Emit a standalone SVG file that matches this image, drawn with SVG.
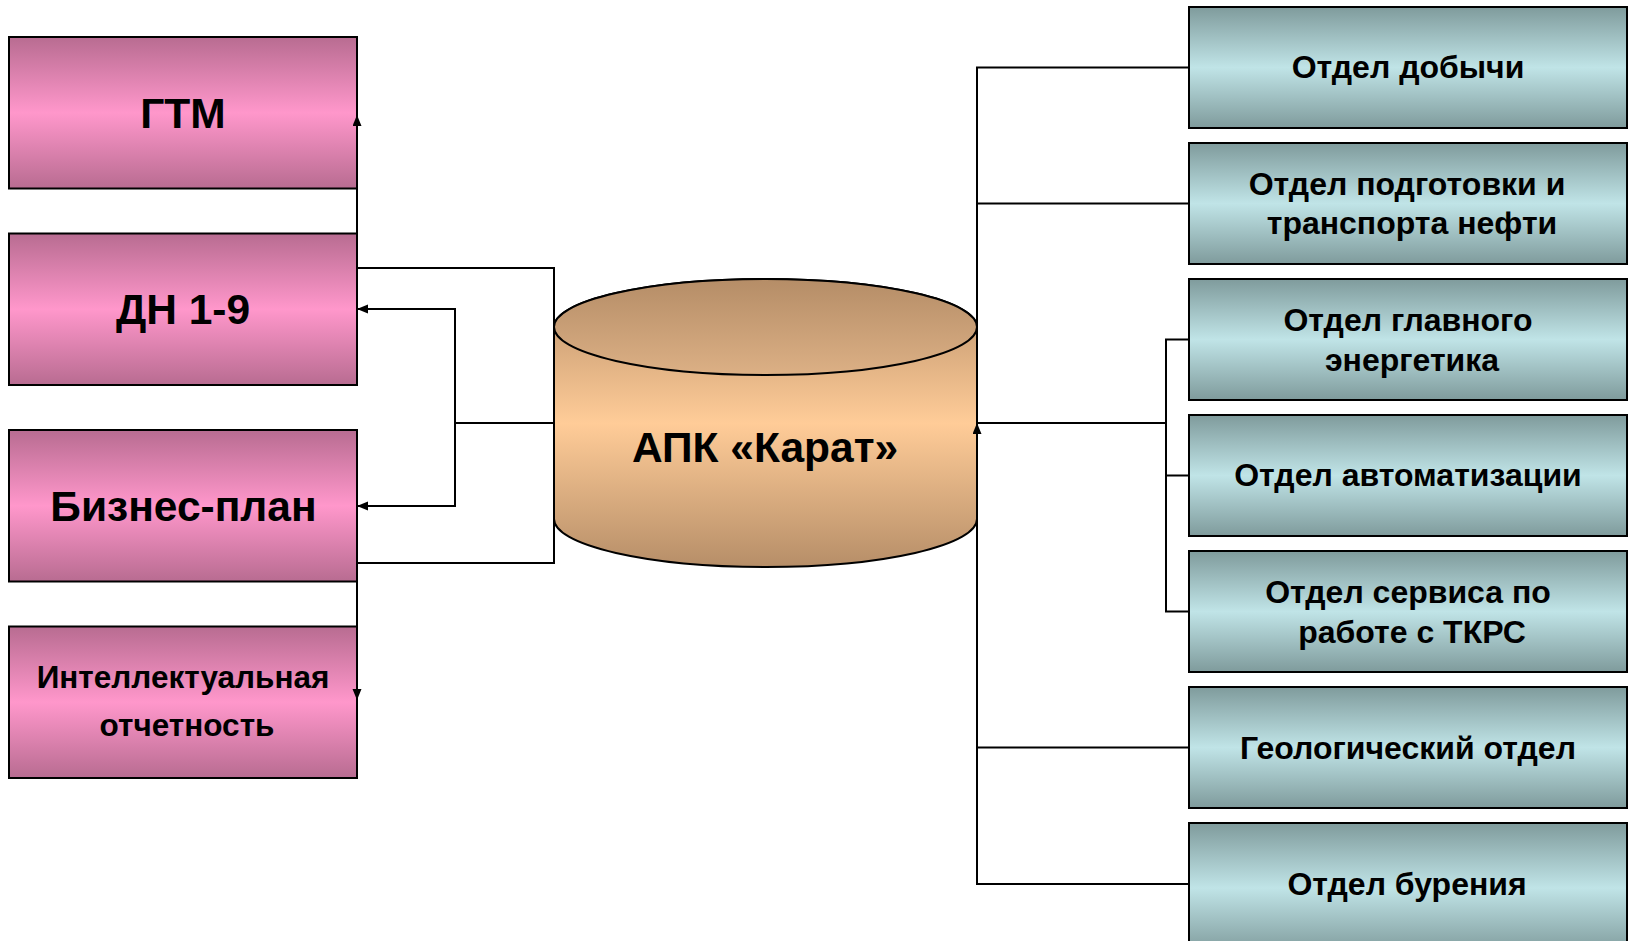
<svg xmlns="http://www.w3.org/2000/svg" width="1628" height="941" viewBox="0 0 1628 941">
  <defs>
    <linearGradient id="gPink" x1="0" y1="0" x2="0" y2="1">
      <stop offset="0" stop-color="#b86c91"/>
      <stop offset="0.5" stop-color="#ff97cb"/>
      <stop offset="1" stop-color="#b86c91"/>
    </linearGradient>
    <linearGradient id="gTeal" x1="0" y1="0" x2="0" y2="1">
      <stop offset="0" stop-color="#7f9b9c"/>
      <stop offset="0.5" stop-color="#c0e4e7"/>
      <stop offset="1" stop-color="#7f9b9c"/>
    </linearGradient>
    <linearGradient id="gCylSide" gradientUnits="userSpaceOnUse" x1="0" y1="279" x2="0" y2="567">
      <stop offset="0" stop-color="#b68e68"/>
      <stop offset="0.5" stop-color="#ffcc98"/>
      <stop offset="1" stop-color="#b68e68"/>
    </linearGradient>
    <linearGradient id="gCylTop" gradientUnits="userSpaceOnUse" x1="0" y1="279" x2="0" y2="375">
      <stop offset="0" stop-color="#b58d67"/>
      <stop offset="1" stop-color="#dcb085"/>
    </linearGradient>
    <marker id="arr" markerUnits="userSpaceOnUse" markerWidth="12" markerHeight="10" refX="11" refY="4.5" orient="auto">
      <path d="M0,0 L11,4.5 L0,9 z" fill="#000"/>
    </marker>
    <style>
      .box { stroke: #000; stroke-width: 2; }
      .pink { fill: url(#gPink); }
      .teal { fill: url(#gTeal); }
      .t { font-family: "Liberation Sans", Arial, sans-serif; font-weight: bold; fill: #000; text-anchor: middle; }
      .big { font-size: 42.5px; }
      .mid { font-size: 31.5px; }
      .rt { font-size: 32px; }
      .ln { fill: none; stroke: #000; stroke-width: 2; }
    </style>
  </defs>

  <g id="gtm">
    <rect class="box pink" x="9" y="37" width="348" height="151.5"/>
    <text class="t big" x="183" y="127.5">ГТМ</text>
  </g>
  <g id="dn">
    <rect class="box pink" x="9" y="233.5" width="348" height="151.5"/>
    <text class="t big" x="183" y="324">ДН 1-9</text>
  </g>
  <g id="biz">
    <rect class="box pink" x="9" y="430" width="348" height="151.5"/>
    <text class="t big" x="183.5" y="520.5">Бизнес-план</text>
  </g>
  <g id="intel">
    <rect class="box pink" x="9" y="626.5" width="348" height="151.5"/>
    <text class="t mid" x="183" y="688">Интеллектуальная</text>
    <text class="t mid" x="187" y="736">отчетность</text>
  </g>

  <g id="karat">
    <path d="M554,327 V519 A211.5,48 0 0 0 977,519 V327 A211.5,48 0 0 0 554,327 Z" fill="url(#gCylSide)" stroke="#000" stroke-width="2"/>
    <ellipse cx="765.5" cy="327" rx="211.5" ry="48" fill="url(#gCylTop)" stroke="#000" stroke-width="2"/>
    <text class="t big" x="765" y="461.5">АПК «Карат»</text>
  </g>

  <g id="d1">
    <rect class="box teal" x="1189" y="7" width="438" height="121"/>
    <text class="t rt" x="1408" y="78">Отдел добычи</text>
  </g>
  <g id="d2">
    <rect class="box teal" x="1189" y="143" width="438" height="121"/>
    <text class="t rt" x="1407" y="195">Отдел подготовки и</text>
    <text class="t rt" x="1412" y="234">транспорта нефти</text>
  </g>
  <g id="d3">
    <rect class="box teal" x="1189" y="279" width="438" height="121"/>
    <text class="t rt" x="1408" y="331">Отдел главного</text>
    <text class="t rt" x="1412" y="370.5">энергетика</text>
  </g>
  <g id="d4">
    <rect class="box teal" x="1189" y="415" width="438" height="121"/>
    <text class="t rt" x="1408" y="486">Отдел автоматизации</text>
  </g>
  <g id="d5">
    <rect class="box teal" x="1189" y="551" width="438" height="121"/>
    <text class="t rt" x="1408" y="603">Отдел сервиса по</text>
    <text class="t rt" x="1412" y="642.5">работе с ТКРС</text>
  </g>
  <g id="d6">
    <rect class="box teal" x="1189" y="687" width="438" height="121"/>
    <text class="t rt" x="1408" y="758.5">Геологический отдел</text>
  </g>
  <g id="d7">
    <rect class="box teal" x="1189" y="823" width="438" height="130"/>
    <text class="t rt" x="1407" y="894.5">Отдел бурения</text>
  </g>

  <g id="connectors">
    <path class="ln" d="M554,327 V268 H357 V115" marker-end="url(#arr)"/>
    <path class="ln" d="M554,519 V563 H357 V700" marker-end="url(#arr)"/>
    <path class="ln" d="M554,423 H455"/>
    <path class="ln" d="M455,423 V309 H357" marker-end="url(#arr)"/>
    <path class="ln" d="M455,423 V506 H357" marker-end="url(#arr)"/>
    <path class="ln" d="M977,423 H1166"/>
    <path class="ln" d="M1189,339.5 H1166 V611.5 H1189"/>
    <path class="ln" d="M1166,475.5 H1189"/>
    <path class="ln" d="M1189,67.5 H977 V884 H1189"/>
    <path class="ln" d="M977,203.5 H1189"/>
    <path class="ln" d="M977,747.5 H1189"/>
    <path class="ln" d="M977,440 V423" marker-end="url(#arr)"/>
  </g>
</svg>
